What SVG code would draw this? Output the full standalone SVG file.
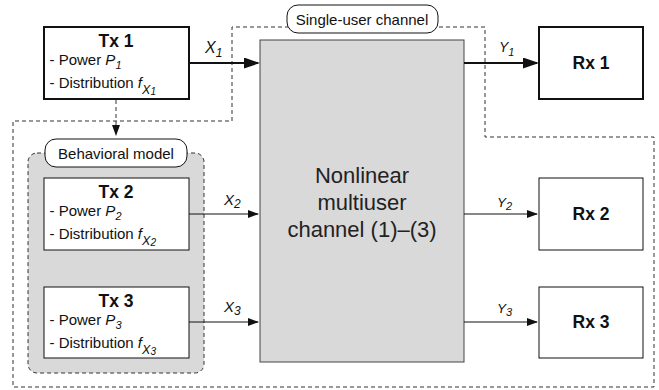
<svg xmlns="http://www.w3.org/2000/svg" width="659" height="390" viewBox="0 0 659 390">
<style>
text{font-family:"Liberation Sans",Arial,Helvetica,sans-serif;fill:#111}
.hd{font-size:17.5px;font-weight:bold;text-anchor:middle}
.ln{font-size:15px}
.it{font-style:italic}
.lbl{font-size:15px;text-anchor:middle}
.thick{fill:#fff;stroke:#111;stroke-width:2}
.thin{fill:#fff;stroke:#111;stroke-width:1}
.dash{fill:none;stroke:#333;stroke-width:1;stroke-dasharray:4 3}
.wire{fill:none;stroke:#111}
</style>
<defs>
<marker id="ahT" markerUnits="userSpaceOnUse" markerWidth="16" markerHeight="12" refX="14" refY="5.5" orient="auto"><path d="M0,0 L16,5.5 L0,11 z" fill="#111"/></marker>
<marker id="ah" markerUnits="userSpaceOnUse" markerWidth="12" markerHeight="9" refX="10" refY="4" orient="auto"><path d="M0,0 L11,4 L0,8 z" fill="#111"/></marker>
</defs>

<g id="single-user-region">
<path class="dash" d="M232,121 L232,27 L485,27 L485,137 L654,137 L654,387 L13,387 L13,121 Z"/>
<rect x="287" y="5" width="151" height="28" rx="11" fill="#fff" stroke="#111" stroke-width="1"/>
<text class="lbl" x="362" y="25">Single-user channel</text>
</g>

<g id="behavioral-model">
<rect x="28" y="153" width="176" height="220" rx="9" fill="#d9d9d9" stroke="#333" stroke-width="1" stroke-dasharray="4 3"/>
<rect x="45" y="139" width="142" height="28" rx="11" fill="#fff" stroke="#111" stroke-width="1"/>
<text class="lbl" x="116" y="159">Behavioral model</text>
</g>

<g id="channel">
<rect x="260" y="40" width="204" height="322" fill="#d9d9d9" stroke="#444" stroke-width="1"/>
<text style="font-size:22px;text-anchor:middle;fill:#222" x="362" y="183">Nonlinear</text>
<text style="font-size:22px;text-anchor:middle;fill:#222" x="362" y="210">multiuser</text>
<text style="font-size:22px;text-anchor:middle;fill:#222" x="362" y="237">channel (1)–(3)</text>
</g>

<g id="tx1">
<rect class="thick" x="44" y="27" width="145" height="72"/>
<text class="hd" x="116" y="46.5">Tx 1</text>
<text class="ln" x="49.5" y="64.5">- Power <tspan class="it">P</tspan><tspan class="it" style="font-size:11px" dy="4">1</tspan></text>
<text class="ln" x="49.5" y="87.5">- Distribution <tspan class="it">f</tspan><tspan class="it" style="font-size:12.5px" dy="6">X</tspan><tspan class="it" style="font-size:10px" dy="1">1</tspan></text>
</g>

<g id="tx2">
<rect class="thin" x="44" y="178" width="145" height="72"/>
<text class="hd" x="116" y="197.5">Tx 2</text>
<text class="ln" x="49.5" y="215.5">- Power <tspan class="it">P</tspan><tspan class="it" style="font-size:11px" dy="4">2</tspan></text>
<text class="ln" x="49.5" y="238.5">- Distribution <tspan class="it">f</tspan><tspan class="it" style="font-size:12.5px" dy="6">X</tspan><tspan class="it" style="font-size:10px" dy="1">2</tspan></text>
</g>

<g id="tx3">
<rect class="thin" x="44" y="287" width="145" height="71"/>
<text class="hd" x="116" y="306.5">Tx 3</text>
<text class="ln" x="49.5" y="324.5">- Power <tspan class="it">P</tspan><tspan class="it" style="font-size:11px" dy="4">3</tspan></text>
<text class="ln" x="49.5" y="347.5">- Distribution <tspan class="it">f</tspan><tspan class="it" style="font-size:12.5px" dy="6">X</tspan><tspan class="it" style="font-size:10px" dy="1">3</tspan></text>
</g>

<g id="rx1">
<rect class="thick" x="539" y="27" width="104" height="72"/>
<text class="hd" x="591" y="69">Rx 1</text>
</g>
<g id="rx2">
<rect class="thin" x="539" y="178" width="104" height="72"/>
<text class="hd" x="591" y="220">Rx 2</text>
</g>
<g id="rx3">
<rect class="thin" x="539" y="287" width="104" height="71"/>
<text class="hd" x="591" y="328">Rx 3</text>
</g>

<g id="connectors">
<line class="wire" stroke-width="2" x1="189" y1="63" x2="258" y2="63" marker-end="url(#ahT)"/>
<line class="wire" stroke-width="2" x1="464" y1="63" x2="537" y2="63" marker-end="url(#ahT)"/>
<line class="wire" stroke-width="1" x1="189" y1="214" x2="258" y2="214" marker-end="url(#ah)"/>
<line class="wire" stroke-width="1" x1="189" y1="322" x2="258" y2="322" marker-end="url(#ah)"/>
<line class="wire" stroke-width="1" x1="464" y1="214" x2="537" y2="214" marker-end="url(#ah)"/>
<line class="wire" stroke-width="1" x1="464" y1="322" x2="537" y2="322" marker-end="url(#ah)"/>
<line class="dash" x1="116" y1="100" x2="116" y2="135" marker-end="url(#ah)"/>
<text class="it" style="font-size:16px" x="205" y="53">X<tspan style="font-size:12px" dy="4">1</tspan></text>
<text class="it" style="font-size:15px" x="224" y="205">X<tspan style="font-size:12px" dy="3">2</tspan></text>
<text class="it" style="font-size:15px" x="224" y="312">X<tspan style="font-size:12px" dy="3">3</tspan></text>
<text class="it" style="font-size:14px" x="499" y="52">Y<tspan style="font-size:11px" dy="4">1</tspan></text>
<text class="it" style="font-size:13.5px" x="497" y="207">Y<tspan style="font-size:11px" dy="3">2</tspan></text>
<text class="it" style="font-size:13.5px" x="497" y="313">Y<tspan style="font-size:11px" dy="3">3</tspan></text>
</g>
</svg>
